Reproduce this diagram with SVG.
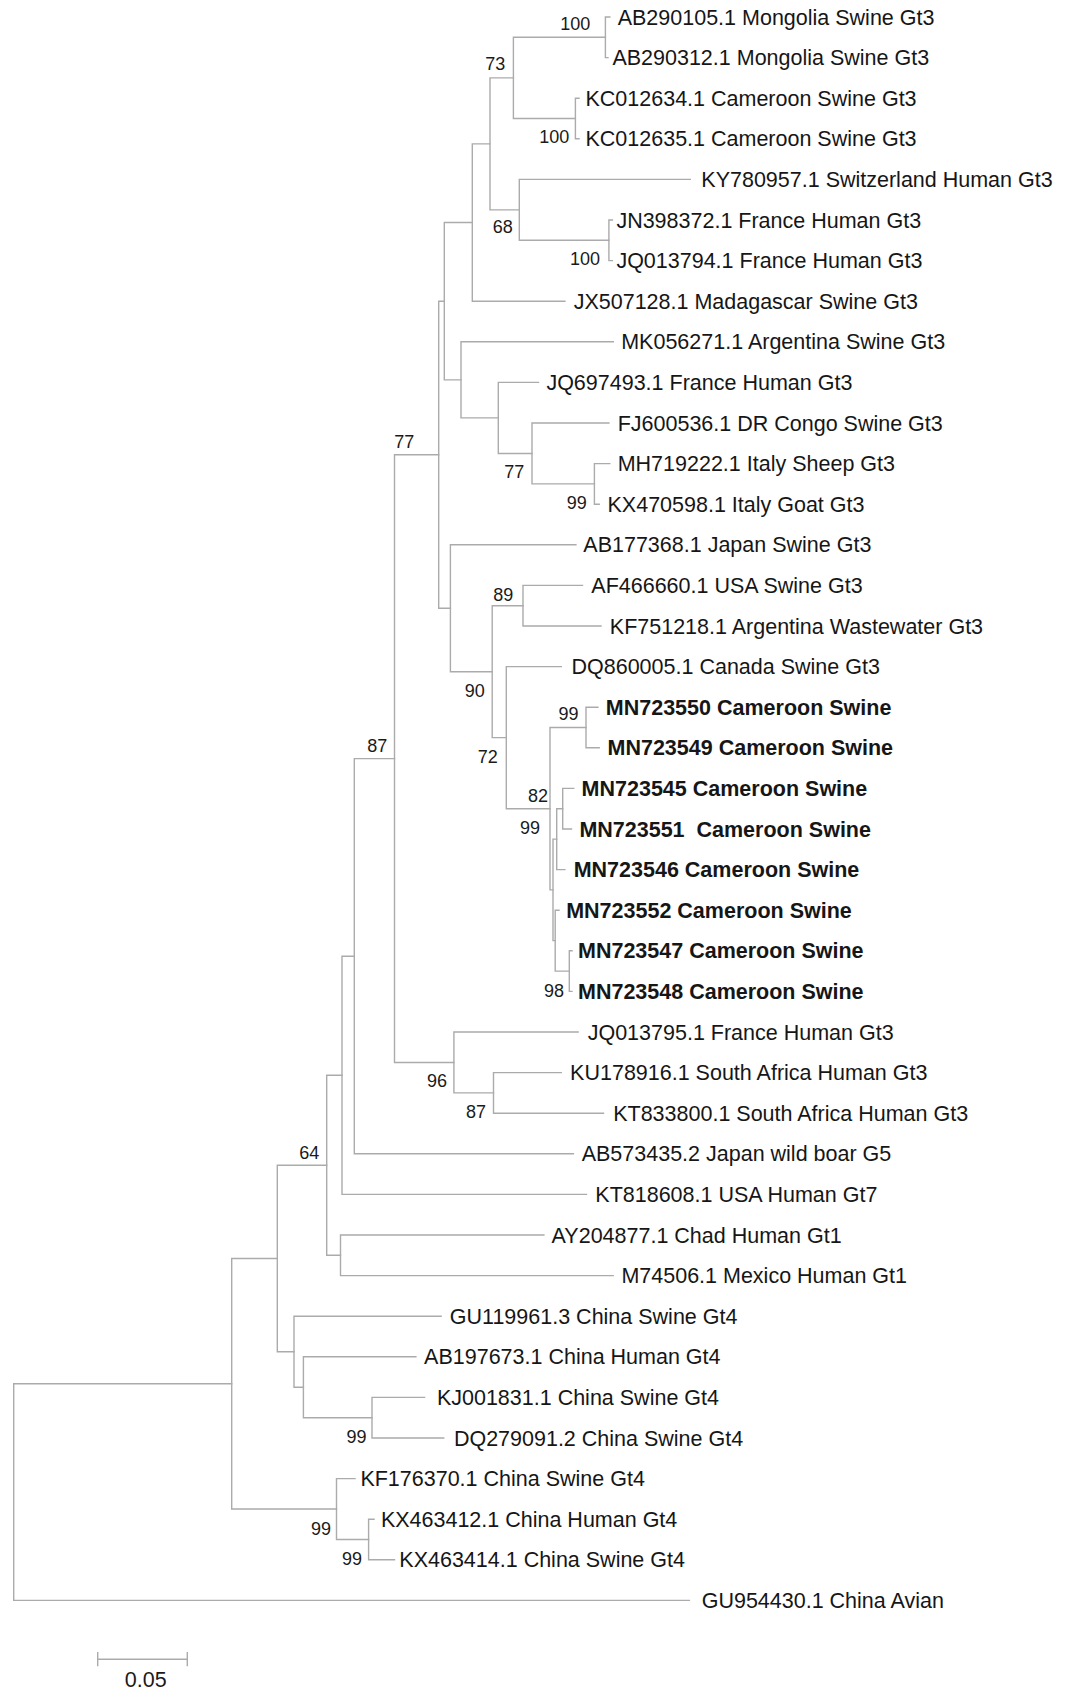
<svg xmlns="http://www.w3.org/2000/svg" width="1070" height="1690" viewBox="0 0 1070 1690">
<style>
.br{fill:none;stroke:#ababab;stroke-width:1.4;stroke-linecap:square}
.lbl{font-family:"Liberation Sans",Arial,sans-serif;font-size:21.5px;fill:#161616}
.b{font-weight:bold}
.bs{font-family:"Liberation Sans",Arial,sans-serif;font-size:18px;fill:#1a1a1a;text-anchor:end}
.sc{font-family:"Liberation Sans",Arial,sans-serif;font-size:21.5px;fill:#1a1a1a;text-anchor:middle}
</style>
<rect width="1070" height="1690" fill="#ffffff"/>
<g id="connectors">
<path class="br" d="M609.8 17 H605.4 V57.6 H608"/>
<path class="br" d="M579 98.2 H575.4 V138.8 H579"/>
<path class="br" d="M605.4 37.3 H513.4 V118.5 H575.4"/>
<path class="br" d="M612.4 220 H608.9 V260.6 H612.4"/>
<path class="br" d="M690.3 179.4 H519.3 V240.3 H608.9"/>
<path class="br" d="M513.4 77.9 H490 V209.85 H519.3"/>
<path class="br" d="M490 143.9 H472.3 V301.2 H564.9"/>
<path class="br" d="M609.8 463.6 H594.4 V504.2 H599.2"/>
<path class="br" d="M608.9 423 H532 V483.9 H594.4"/>
<path class="br" d="M538.5 382.4 H498.3 V453.45 H532"/>
<path class="br" d="M613.3 341.8 H461 V417.9 H498.3"/>
<path class="br" d="M472.3 222.55 H444.3 V379.85 H461"/>
<path class="br" d="M582.5 585.4 H523 V626 H601"/>
<path class="br" d="M597.9 707.2 H586 V747.8 H599.2"/>
<path class="br" d="M573.7 788.4 H562.7 V829 H571.5"/>
<path class="br" d="M562.7 808.7 H556.7 V869.6 H564.9"/>
<path class="br" d="M572 950.8 H569.3 V991.4 H572"/>
<path class="br" d="M559 910.2 H555.2 V971.1 H569.3"/>
<path class="br" d="M556.7 839.15 H553 V940.65 H555.2"/>
<path class="br" d="M586 727.5 H550 V889.9 H553"/>
<path class="br" d="M561.3 666.6 H506.3 V808.7 H550"/>
<path class="br" d="M523 605.7 H492.2 V737.65 H506.3"/>
<path class="br" d="M575.9 544.8 H450.4 V671.7 H492.2"/>
<path class="br" d="M444.3 301.2 H438.7 V608.25 H450.4"/>
<path class="br" d="M561.3 1072.6 H493.5 V1113.2 H603.5"/>
<path class="br" d="M578.1 1032 H453.9 V1092.9 H493.5"/>
<path class="br" d="M438.7 454.7 H394.5 V1062.45 H453.9"/>
<path class="br" d="M394.5 758.6 H354.3 V1153.8 H573.4"/>
<path class="br" d="M354.3 956.2 H342 V1194.4 H586.5"/>
<path class="br" d="M543.9 1235 H340.5 V1275.6 H613.2"/>
<path class="br" d="M342 1075.3 H326.7 V1255.3 H340.5"/>
<path class="br" d="M424.6 1397.4 H372 V1438 H443.7"/>
<path class="br" d="M415.9 1356.8 H303.4 V1417.7 H372"/>
<path class="br" d="M441.1 1316.2 H294 V1387.25 H303.4"/>
<path class="br" d="M326.7 1165.3 H277.3 V1351.7 H294"/>
<path class="br" d="M374 1519.2 H368.6 V1559.8 H394.5"/>
<path class="br" d="M355 1478.6 H336.5 V1539.5 H368.6"/>
<path class="br" d="M277.3 1258.5 H231.7 V1509.05 H336.5"/>
<path class="br" d="M231.7 1383.8 H13.7 V1600.4 H689.4"/>
</g>
<g id="bootstrap">
<text class="bs" x="590.4" y="30">100</text>
<text class="bs" x="505.4" y="70">73</text>
<text class="bs" x="569.3" y="142.7">100</text>
<text class="bs" x="512.7" y="233.3">68</text>
<text class="bs" x="600" y="265">100</text>
<text class="bs" x="414.3" y="448.3">77</text>
<text class="bs" x="524.4" y="478.3">77</text>
<text class="bs" x="586.9" y="509.3">99</text>
<text class="bs" x="513.4" y="601">89</text>
<text class="bs" x="484.8" y="696.7">90</text>
<text class="bs" x="578.5" y="720">99</text>
<text class="bs" x="497.8" y="762.5">72</text>
<text class="bs" x="387.3" y="751.5">87</text>
<text class="bs" x="548" y="801.7">82</text>
<text class="bs" x="540" y="834">99</text>
<text class="bs" x="564" y="997">98</text>
<text class="bs" x="447" y="1086.7">96</text>
<text class="bs" x="486" y="1118.3">87</text>
<text class="bs" x="319.3" y="1159">64</text>
<text class="bs" x="366.6" y="1443.3">99</text>
<text class="bs" x="331" y="1535">99</text>
<text class="bs" x="362" y="1565">99</text>
</g>
<g id="n0"><text class="lbl" x="617.7" y="24.5">AB290105.1 Mongolia Swine Gt3</text></g>
<g id="n1"><text class="lbl" x="612.4" y="65.1">AB290312.1 Mongolia Swine Gt3</text></g>
<g id="n2"><text class="lbl" x="585.5" y="105.7">KC012634.1 Cameroon Swine Gt3</text></g>
<g id="n3"><text class="lbl" x="585.5" y="146.3">KC012635.1 Cameroon Swine Gt3</text></g>
<g id="n4"><text class="lbl" x="701.3" y="186.9">KY780957.1 Switzerland Human Gt3</text></g>
<g id="n5"><text class="lbl" x="616.4" y="227.5">JN398372.1 France Human Gt3</text></g>
<g id="n6"><text class="lbl" x="616.4" y="268.1">JQ013794.1 France Human Gt3</text></g>
<g id="n7"><text class="lbl" x="573.7" y="308.7">JX507128.1 Madagascar Swine Gt3</text></g>
<g id="n8"><text class="lbl" x="621.2" y="349.3">MK056271.1 Argentina Swine Gt3</text></g>
<g id="n9"><text class="lbl" x="546.4" y="389.9">JQ697493.1 France Human Gt3</text></g>
<g id="n10"><text class="lbl" x="617.7" y="430.5">FJ600536.1 DR Congo Swine Gt3</text></g>
<g id="n11"><text class="lbl" x="617.7" y="471.1">MH719222.1 Italy Sheep Gt3</text></g>
<g id="n12"><text class="lbl" x="607.5" y="511.7">KX470598.1 Italy Goat Gt3</text></g>
<g id="n13"><text class="lbl" x="583.3" y="552.3">AB177368.1 Japan Swine Gt3</text></g>
<g id="n14"><text class="lbl" x="591.3" y="592.9">AF466660.1 USA Swine Gt3</text></g>
<g id="n15"><text class="lbl" x="609.8" y="633.5">KF751218.1 Argentina Wastewater Gt3</text></g>
<g id="n16"><text class="lbl" x="571.5" y="674.1">DQ860005.1 Canada Swine Gt3</text></g>
<g id="n17"><text class="lbl b" x="605.8" y="714.7">MN723550 Cameroon Swine</text></g>
<g id="n18"><text class="lbl b" x="607.5" y="755.3">MN723549 Cameroon Swine</text></g>
<g id="n19"><text class="lbl b" x="581.6" y="795.9">MN723545 Cameroon Swine</text></g>
<g id="n20"><text class="lbl b" xml:space="preserve" x="579.4" y="836.5">MN723551  Cameroon Swine</text></g>
<g id="n21"><text class="lbl b" x="573.7" y="877.1">MN723546 Cameroon Swine</text></g>
<g id="n22"><text class="lbl b" x="566.2" y="917.7">MN723552 Cameroon Swine</text></g>
<g id="n23"><text class="lbl b" x="578" y="958.3">MN723547 Cameroon Swine</text></g>
<g id="n24"><text class="lbl b" x="578" y="998.9">MN723548 Cameroon Swine</text></g>
<g id="n25"><text class="lbl" x="587.7" y="1039.5">JQ013795.1 France Human Gt3</text></g>
<g id="n26"><text class="lbl" x="570.1" y="1080.1">KU178916.1 South Africa Human Gt3</text></g>
<g id="n27"><text class="lbl" x="613.2" y="1120.7">KT833800.1 South Africa Human Gt3</text></g>
<g id="n28"><text class="lbl" x="581.7" y="1161.3">AB573435.2 Japan wild boar G5</text></g>
<g id="n29"><text class="lbl" x="595.3" y="1201.9">KT818608.1 USA Human Gt7</text></g>
<g id="n30"><text class="lbl" x="551.6" y="1242.5">AY204877.1 Chad Human Gt1</text></g>
<g id="n31"><text class="lbl" x="621.4" y="1283.1">M74506.1 Mexico Human Gt1</text></g>
<g id="n32"><text class="lbl" x="449.8" y="1323.7">GU119961.3 China Swine Gt4</text></g>
<g id="n33"><text class="lbl" x="424.1" y="1364.3">AB197673.1 China Human Gt4</text></g>
<g id="n34"><text class="lbl" x="436.9" y="1404.9">KJ001831.1 China Swine Gt4</text></g>
<g id="n35"><text class="lbl" x="453.9" y="1445.5">DQ279091.2 China Swine Gt4</text></g>
<g id="n36"><text class="lbl" x="360.4" y="1486.1">KF176370.1 China Swine Gt4</text></g>
<g id="n37"><text class="lbl" x="380.9" y="1526.7">KX463412.1 China Human Gt4</text></g>
<g id="n38"><text class="lbl" x="399.3" y="1567.3">KX463414.1 China Swine Gt4</text></g>
<g id="n39"><text class="lbl" x="701.7" y="1607.9">GU954430.1 China Avian</text></g>
<g id="scalebar">
<path class="br" d="M97.7 1659.3 H187.3 M97.7 1652.7 V1665.5 M187.3 1652.7 V1665.5"/>
<text class="sc" x="145.8" y="1687">0.05</text>
</g>
</svg>
